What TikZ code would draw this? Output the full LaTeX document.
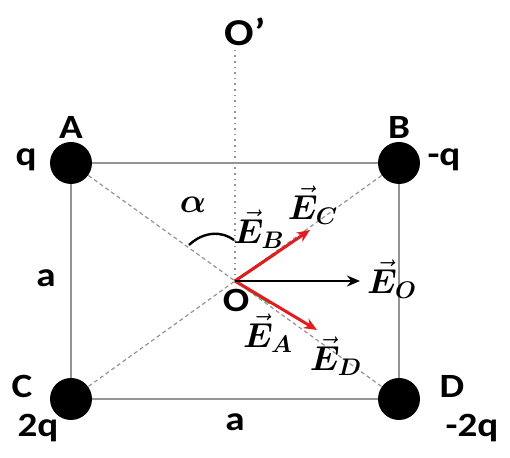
\documentclass[tikz,border=0pt]{standalone}
\usepackage{fontspec}
\setmainfont{Carlito}[FakeStretch=1.15]
\usepackage{bm}
\DeclareMathSizes{16}{16}{13}{11}
\usetikzlibrary{arrows.meta}
\definecolor{fieldred}{RGB}{228,28,30}
\definecolor{fieldgreen}{RGB}{60,170,70}

\begin{document}
\begin{tikzpicture}[x=0.5pt,y=-0.5pt,
  charge/.style={circle,fill=black,minimum size=21pt,inner sep=0pt},
  lbl/.style={font=\fontsize{17}{19}\selectfont\bfseries},
  vlbl/.style={font=\fontsize{16}{18}\selectfont},
  side/.style={black!42,line width=1.1pt},
  diag/.style={black!42,line width=0.6pt,dash pattern=on 2pt off 1.5pt},
  field/.style={-{Stealth[length=6.5pt,width=5.5pt]},line width=1.5pt}]
\useasboundingbox (0,0) rectangle (510,458);
% charges at the corners
\node[charge] (A) at (71,163) {};
\node[charge] (B) at (399,163) {};
\node[charge] (C) at (71,399) {};
\node[charge] (D) at (399,399) {};
\coordinate (O) at (235,281);
\coordinate (Otop) at (235,48);
% frame and diagonals
\draw[side] (A) -- (B) -- (D) -- (C) -- (A);
\draw[diag] (A) -- (D);
\draw[diag] (B) -- (C);
\draw[black!42,line width=0.8pt,dotted] (O) -- (Otop);
% angle mark
\draw[line width=1.2pt] (189,245) .. controls (204,231) and (222,231) .. (234,240);
% field vectors
\coordinate (tipB) at (275,254);
\coordinate (tipA) at (270,303);
\coordinate (tipC) at (310,230);
\coordinate (tipD) at (317,330);
\coordinate (tipO) at (360,281);
\draw[fieldgreen,line width=1.4pt,yshift=-1.7pt] (O) -- (tipB);
\draw[fieldgreen,line width=1.4pt,xshift=-0.6pt,yshift=-1.5pt] (O) -- (tipA);
\draw[field,fieldred] (O) -- (tipC);
\draw[field,fieldred] (O) -- (tipD);
\draw[field,black,line width=1.3pt] (O) -- (tipO);
% labels
\node[lbl] (lA) at (71,127) {A};
\node[lbl] (lB) at (399,127) {B};
\node[lbl] (lC) at (22,386) {C};
\node[lbl] (lD) at (452,386) {D};
\node[lbl] (qA) at (26,160) {q};
\node[lbl] (qB) at (444,160) {-q};
\node[lbl] (qC) at (38,428) {2q};
\node[lbl] (qD) at (472,428) {-2q};
\node[lbl] (sideL) at (46,278) {a};
\node[lbl] (sideB) at (235,422) {a};
\node[lbl] (lO) at (236,300) {O};
\node[lbl,font=\fontsize{19}{21}\selectfont\bfseries] (lOp) at (245,32) {O’};
\node[vlbl] (alpha) at (193,205) {$\bm\alpha$};
\node[vlbl] (lEB) at (259,229) {$\vec{\bm E}_{\bm B}$};
\node[vlbl] (lEC) at (313,205) {$\vec{\bm E}_{\bm C}$};
\node[vlbl] (lEO) at (392,279) {$\vec{\bm E}_{\bm O}$};
\node[vlbl] (lEA) at (268,333) {$\vec{\bm E}_{\bm A}$};
\node[vlbl] (lED) at (336,356) {$\vec{\bm E}_{\bm D}$};
\end{tikzpicture}
\end{document}
